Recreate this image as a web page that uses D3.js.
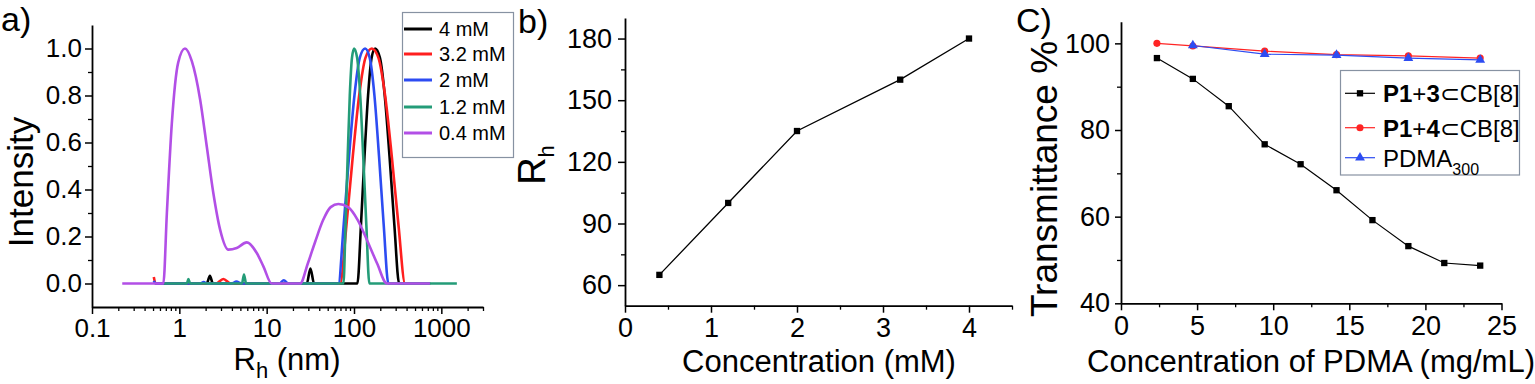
<!DOCTYPE html>
<html><head><meta charset="utf-8">
<script src="https://cdn.jsdelivr.net/npm/d3@7"></script>
<style>body{margin:0;background:#fff}</style>
</head><body>
<svg id="chart" width="1535" height="384"></svg>
<script>
// ---------- Panel a data: DLS distributions [Rh (nm), normalized intensity] ----------
const seriesNamesA = ["4 mM", "3.2 mM", "2 mM", "1.2 mM", "0.4 mM"];
const seriesColorsA = ["#000000", "#ff1f1f", "#2d4cf2", "#249c78", "#b24fe6"];
const dls4mM = [[0.66,0],[2.06,0],[2.24,0.033],[2.42,0],[28.8,0],[31.7,0.064],[34.9,0],[109.4,0],[120.2,0.25],[131.8,0.54],[144.9,0.80],[158.9,0.96],[174.6,1.0],[198.2,0.96],[224.9,0.80],[255.3,0.54],[289.7,0.25],[328.9,0],[745,0]];
const dls32mM = [[0.51,0.028],[0.535,0],[2.63,0],[3.19,0.019],[3.88,0],[69.3,0],[82.0,0.25],[96.8,0.54],[114.6,0.80],[135.2,0.96],[160,1.0],[190.5,0.96],[227,0.80],[271,0.54],[322.8,0.25],[384.6,0],[745,0]];
const dls2mM = [[0.51,0.012],[0.535,0],[1.73,0],[1.9,0.006],[2.06,0],[3.98,0],[4.5,0.008],[5.19,0],[14.0,0],[15.7,0.014],[17.7,0],[66.2,0],[76.2,0.25],[87.7,0.54],[101.2,0.80],[116.4,0.96],[134,1.0],[151.4,0.96],[171.4,0.80],[193.6,0.54],[218.8,0.25],[247.7,0],[745,0]];
const dls12mM = [[0.66,0],[1.22,0],[1.27,0.019],[1.33,0],[5.22,0],[5.5,0.038],[5.81,0],[75.7,0],[80.0,0.25],[84.7,0.54],[89.5,0.80],[94.8,0.96],[100.2,1.0],[108.6,0.96],[117.8,0.80],[127.6,0.54],[138.4,0.25],[150,0],[1506,0]];
const dls04mM = [[0.222,0],[0.656,0],[0.72,0.3],[0.82,0.68],[0.97,0.94],[1.16,1.0],[1.39,0.946],[1.73,0.783],[2.06,0.584],[2.45,0.385],[2.93,0.229],[3.64,0.144],[4.54,0.151],[5.91,0.175],[7.70,0.13],[9.17,0.073],[11.4,0],[24.2,0],[29.6,0.085],[36.1,0.18],[44.3,0.27],[54.1,0.325],[66.2,0.338],[85.5,0.325],[110.4,0.27],[142.6,0.18],[184.1,0.085],[237.7,0],[741,0]];
const aXTicks = [0.1, 1, 10, 100, 1000];
const aXTickLabels = ["0.1", "1", "10", "100", "1000"];
const aYTicks = [0, 0.2, 0.4, 0.6, 0.8, 1.0];
const aYMinor = [0.1, 0.3, 0.5, 0.7, 0.9];

// ---------- Panel b data ----------
const concB = [0.4, 1.2, 2, 3.2, 4];
const rhB = [65, 100, 135, 160, 180];
const bXTicks = [0, 1, 2, 3, 4];
const bXMinor = [0.5, 1.5, 2.5, 3.5, 4.5];
const bYTicks = [60, 90, 120, 150, 180];
const bYMinor = [75, 105, 135, 165];

// ---------- Panel c data ----------
const pdmaConc = [2.36, 4.72, 7.08, 9.44, 11.8, 14.16, 16.52, 18.88, 21.24, 23.6];
const transP13 = [96.6, 91.8, 85.5, 76.7, 72.1, 66.1, 59.2, 53.2, 49.3, 48.7];
const pdmaConcP14 = [2.36, 4.72, 9.44, 14.16, 18.88, 23.6];
const transP14 = [100, 99.4, 98.2, 97.4, 97.1, 96.6];
const pdmaConcPDMA = [4.72, 9.44, 14.16, 18.88, 23.6];
const transPDMA = [99.5, 97.5, 97.3, 96.6, 96.2];
const cXTicks = [0, 5, 10, 15, 20, 25];
const cXMinor = [2.5, 7.5, 12.5, 17.5, 22.5];
const cYTicks = [40, 60, 80, 100];
const cYMinor = [50, 70, 90];

const FONT = '"Liberation Sans", Arial, Helvetica, sans-serif';
const svg = d3.select("#chart").style("font-family", FONT);
svg.append("rect").attr("width", 1535).attr("height", 384).attr("fill", "#fff");

function styleAxis(g, fs) {
  g.select(".domain").attr("stroke", "#000").attr("stroke-width", 1.8);
  g.selectAll(".tick line").attr("stroke", "#000").attr("stroke-width", 1.5);
  g.selectAll(".tick text").attr("font-size", fs).attr("fill", "#000").attr("font-family", FONT);
}
function minorAxis(g) {
  g.select(".domain").remove();
  g.selectAll(".tick line").attr("stroke", "#000").attr("stroke-width", 1.3);
  g.selectAll(".tick text").remove();
}

// =================== Panel a ===================
const xA = d3.scaleLog().domain([0.1, 3000]).range([92, 483]);
const yA = d3.scaleLinear().domain([-0.1, 1.1]).range([307, 25]);
const aMinorX = xA.ticks().filter(v => !aXTicks.some(t => Math.abs(t - v) < 1e-9));

svg.append("g").attr("transform", "translate(0,307)")
  .call(d3.axisBottom(xA).tickValues(aMinorX).tickSize(4).tickFormat(""))
  .call(minorAxis);
svg.append("g").attr("transform", "translate(0,307)")
  .call(d3.axisBottom(xA).tickValues(aXTicks).tickFormat((d, i) => aXTickLabels[i]).tickSize(7).tickSizeOuter(0).tickPadding(5))
  .call(g => styleAxis(g, 26));
svg.append("g").attr("transform", "translate(92,0)")
  .call(d3.axisLeft(yA).tickValues(aYMinor).tickSize(4).tickFormat(""))
  .call(minorAxis);
svg.append("g").attr("transform", "translate(92,0)")
  .call(d3.axisLeft(yA).tickValues(aYTicks).tickFormat(d3.format(".1f")).tickSize(7).tickSizeOuter(0).tickPadding(3))
  .call(g => styleAxis(g, 26));

const lineA = d3.line().x(d => xA(d[0])).y(d => yA(d[1])).curve(d3.curveMonotoneX);
const seriesA = [dls4mM, dls32mM, dls2mM, dls12mM, dls04mM];
seriesA.forEach((s, i) => {
  svg.append("path").datum(s).attr("d", lineA).attr("fill", "none")
    .attr("stroke", seriesColorsA[i]).attr("stroke-width", 2.6).attr("stroke-linejoin", "round");
});

// legend a
svg.append("rect").attr("x", 402.5).attr("y", 12.5).attr("width", 111).attr("height", 145)
  .attr("fill", "#fff").attr("stroke", "#8792a2").attr("stroke-width", 1.2);
const legAY = [29, 54, 80, 107, 133];
seriesNamesA.forEach((n, i) => {
  svg.append("line").attr("x1", 404).attr("x2", 432).attr("y1", legAY[i]).attr("y2", legAY[i])
    .attr("stroke", seriesColorsA[i]).attr("stroke-width", 3);
  svg.append("text").attr("x", 439).attr("y", legAY[i] + 7).attr("font-size", 20).text(n);
});

// titles a
svg.append("text").attr("x", 1).attr("y", 31).attr("font-size", 34).text("a)");
svg.append("text").attr("transform", "translate(33,182) rotate(-90)").attr("text-anchor", "middle")
  .attr("font-size", 35).text("Intensity");
const tA = svg.append("text").attr("x", 287).attr("y", 370).attr("text-anchor", "middle").attr("font-size", 31);
tA.append("tspan").text("R");
tA.append("tspan").attr("font-size", 22).attr("dy", 8).text("h");
tA.append("tspan").attr("dy", -8).text(" (nm)");

// =================== Panel b ===================
const xB = d3.scaleLinear().domain([0, 4.5]).range([625, 1012]);
const yB = d3.scaleLinear().domain([50, 190]).range([305.7, 18]);
svg.append("g").attr("transform", "translate(0,305.7)")
  .call(d3.axisBottom(xB).tickValues(bXMinor).tickSize(4).tickFormat("")).call(minorAxis);
svg.append("g").attr("transform", "translate(0,305.7)")
  .call(d3.axisBottom(xB).tickValues(bXTicks).tickFormat(d3.format("d")).tickSize(7).tickSizeOuter(0).tickPadding(5))
  .call(g => styleAxis(g, 27));
svg.append("g").attr("transform", "translate(625,0)")
  .call(d3.axisLeft(yB).tickValues(bYMinor).tickSize(4).tickFormat("")).call(minorAxis);
svg.append("g").attr("transform", "translate(625,0)")
  .call(d3.axisLeft(yB).tickValues(bYTicks).tickFormat(d3.format("d")).tickSize(7).tickSizeOuter(0).tickPadding(6))
  .call(g => styleAxis(g, 27));

const ptsB = concB.map((c, i) => [c, rhB[i]]);
svg.append("path").datum(ptsB).attr("d", d3.line().x(d => xB(d[0])).y(d => yB(d[1])))
  .attr("fill", "none").attr("stroke", "#000").attr("stroke-width", 1.3);
svg.append("g").selectAll("path").data(ptsB).join("path")
  .attr("transform", d => `translate(${xB(d[0])},${yB(d[1])})`)
  .attr("d", d3.symbol(d3.symbolSquare, 40)).attr("fill", "#000");

svg.append("text").attr("x", 518).attr("y", 33).attr("font-size", 34).text("b)");
const tBy = svg.append("text").attr("transform", "translate(545,165) rotate(-90)").attr("text-anchor", "middle").attr("font-size", 38);
tBy.append("tspan").text("R");
tBy.append("tspan").attr("font-size", 22).attr("dy", 9).text("h");
svg.append("text").attr("x", 819).attr("y", 372).attr("text-anchor", "middle").attr("font-size", 31).text("Concentration (mM)");

// =================== Panel c ===================
const xC = d3.scaleLinear().domain([0, 25]).range([1121, 1501.5]);
const yC = d3.scaleLinear().domain([40, 105]).range([303.3, 21.7]);
svg.append("g").attr("transform", "translate(0,303.3)")
  .call(d3.axisBottom(xC).tickValues(cXMinor).tickSize(4).tickFormat("")).call(minorAxis);
svg.append("g").attr("transform", "translate(0,303.3)")
  .call(d3.axisBottom(xC).tickValues(cXTicks).tickFormat(d3.format("d")).tickSize(7).tickSizeOuter(0).tickPadding(6))
  .call(g => styleAxis(g, 27));
svg.append("g").attr("transform", "translate(1121,0)")
  .call(d3.axisLeft(yC).tickValues(cYMinor).tickSize(4).tickFormat("")).call(minorAxis);
svg.append("g").attr("transform", "translate(1121,0)")
  .call(d3.axisLeft(yC).tickValues(cYTicks).tickFormat(d3.format("d")).tickSize(6).tickSizeOuter(0).tickPadding(5))
  .call(g => styleAxis(g, 27));

const lineC = d3.line().x(d => xC(d[0])).y(d => yC(d[1]));
const seriesC = [
  {pts: pdmaConc.map((c, i) => [c, transP13[i]]), color: "#000", sym: d3.symbolSquare, size: 40},
  {pts: pdmaConcP14.map((c, i) => [c, transP14[i]]), color: "#ff2424", sym: d3.symbolCircle, size: 40},
  {pts: pdmaConcPDMA.map((c, i) => [c, transPDMA[i]]), color: "#2d4cf2", sym: d3.symbolTriangle, size: 42}
];
seriesC.forEach(s => {
  svg.append("path").datum(s.pts).attr("d", lineC).attr("fill", "none").attr("stroke", s.color).attr("stroke-width", 1.2);
  svg.append("g").selectAll("path").data(s.pts).join("path")
    .attr("transform", d => `translate(${xC(d[0])},${yC(d[1])})`)
    .attr("d", d3.symbol(s.sym, s.size)).attr("fill", s.color);
});

// legend c
svg.append("rect").attr("x", 1340.5).attr("y", 70.5).attr("width", 179).attr("height", 104.5)
  .attr("fill", "#fff").attr("stroke", "#8792a2").attr("stroke-width", 1.2);
const legCY = [93.3, 127.7, 157.7];
seriesC.forEach((s, i) => {
  svg.append("line").attr("x1", 1345).attr("x2", 1375).attr("y1", legCY[i]).attr("y2", legCY[i])
    .attr("stroke", s.color).attr("stroke-width", 1.2);
  svg.append("path").attr("transform", `translate(1360,${legCY[i]})`).attr("d", d3.symbol(s.sym, s.size)).attr("fill", s.color);
});
const lc1 = svg.append("text").attr("x", 1383).attr("y", legCY[0] + 9).attr("font-size", 24);
lc1.append("tspan").attr("font-weight", "bold").text("P1");
lc1.append("tspan").text("+");
lc1.append("tspan").attr("font-weight", "bold").text("3");
lc1.append("tspan").text("⊂CB[8]");
const lc2 = svg.append("text").attr("x", 1383).attr("y", legCY[1] + 9).attr("font-size", 24);
lc2.append("tspan").attr("font-weight", "bold").text("P1");
lc2.append("tspan").text("+");
lc2.append("tspan").attr("font-weight", "bold").text("4");
lc2.append("tspan").text("⊂CB[8]");
const lc3 = svg.append("text").attr("x", 1383).attr("y", legCY[2] + 9).attr("font-size", 24);
lc3.append("tspan").text("PDMA");
lc3.append("tspan").attr("font-size", 16).attr("dy", 8).text("300");

svg.append("text").attr("x", 1016).attr("y", 32).attr("font-size", 34).text("C)");
svg.append("text").attr("transform", "translate(1057,179) rotate(-90)").attr("text-anchor", "middle")
  .attr("font-size", 37).text("Transmittance %");
svg.append("text").attr("x", 1311).attr("y", 372).attr("text-anchor", "middle").attr("font-size", 31).text("Concentration of PDMA (mg/mL)");
</script>
</body></html>
